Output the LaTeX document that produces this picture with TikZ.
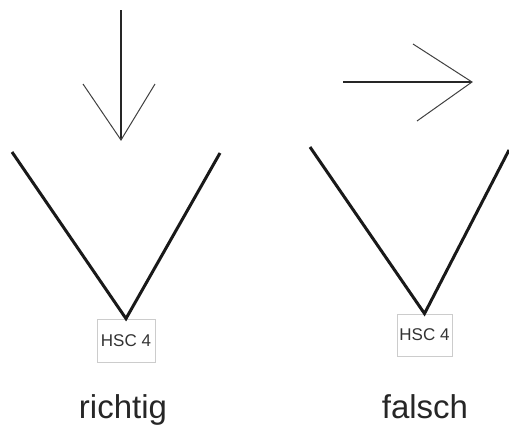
\documentclass[tikz,border=0pt]{standalone}
\usepackage{fontspec}
\setmainfont{Liberation Sans}
\tikzset{x=1pt,y=-1pt,
  vee/.style={line width=3pt,black!90},
  shaft/.style={line width=2.6pt,black!85},
  head/.style={line width=1pt,black!75},
  hsc/.style={draw=black!20,line width=0.8pt,inner sep=0pt,font=\fontsize{17}{17}\selectfont,text=black!80},
  verdict/.style={font=\fontsize{33}{33}\selectfont,text=black!85,anchor=base}}

\begin{document}
\begin{tikzpicture}
  \useasboundingbox (0,0) rectangle (509,432);
  % richtig
  \node[hsc,minimum width=58pt,minimum height=43pt] (box1) at (126,340.5) {HSC 4};
  \coordinate (l1) at (12,152);
  \coordinate (r1) at (220,153);
  \draw[vee] (l1) -- (box1.north) -- (r1);
  \coordinate (top1) at (121,10);
  \coordinate (tip1) at (121,140);
  \coordinate (hl1) at (83,84);
  \coordinate (hr1) at (155,84);
  \draw[shaft] (top1) -- (tip1);
  \draw[head] (hl1) -- (tip1) -- (hr1);
  \node[verdict] (ok) at (123,418) {richtig};
  % falsch
  \node[hsc,minimum width=55pt,minimum height=42pt] (box2) at (424.5,335) {HSC 4};
  \coordinate (l2) at (310,147);
  \coordinate (r2) at (509,150);
  \draw[vee] (l2) -- (box2.north) -- (r2);
  \coordinate (start2) at (343,82);
  \coordinate (tip2) at (472,82);
  \coordinate (hu2) at (413,44);
  \coordinate (hd2) at (417,121);
  \draw[shaft] (start2) -- (tip2);
  \draw[head] (hu2) -- (tip2) -- (hd2);
  \node[verdict] (bad) at (425,418) {falsch};
\end{tikzpicture}
\end{document}
